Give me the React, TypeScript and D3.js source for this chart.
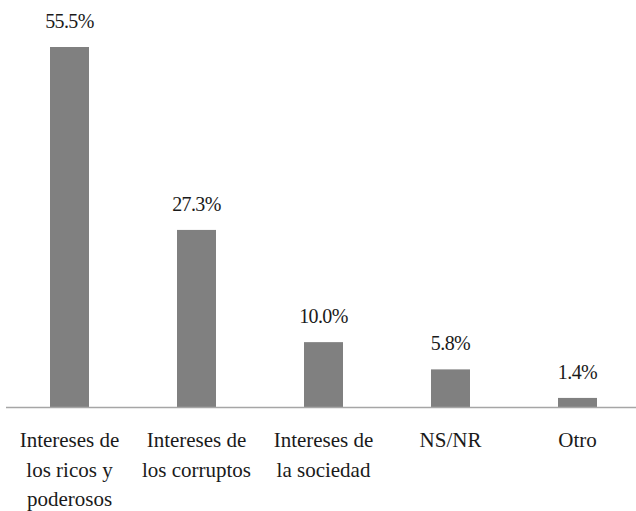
import React from "react";
import * as d3 from "d3";

const categories: string[][] = [
  ["Intereses de", "los ricos y", "poderosos"],
  ["Intereses de", "los corruptos"],
  ["Intereses de", "la sociedad"],
  ["NS/NR"],
  ["Otro"],
];
const values: number[] = [55.5, 27.3, 10.0, 5.8, 1.4];
const valueLabels: string[] = ["55.5%", "27.3%", "10.0%", "5.8%", "1.4%"];

export default function App() {
  const ids = categories.map((_, i) => String(i));
  const x = d3.scaleBand<string>().domain(ids).range([6, 641]).paddingInner(0.693).paddingOuter(0.3465);
  const y = d3.scaleLinear().domain([0, 55.5]).range([407, 47]);
  const bw = x.bandwidth();
  return (
    <svg width={636} height={511} style={{ position: "absolute", left: 0, top: 0, background: "#fff" }}>
      <style>{"text, tspan { font-family: 'Times New Roman', 'Liberation Serif', Tinos, serif !important; }"}</style>
      {values.map((v, i) => (
        <rect key={"b" + i} x={x(ids[i])!} y={y(v)} width={bw} height={y(0) - y(v)} fill="#808080" />
      ))}
      <line x1={6} x2={636} y1={407.5} y2={407.5} stroke="#a6a6a6" strokeWidth={1.5} />
      {values.map((v, i) => (
        <text
          key={"v" + i}
          x={x(ids[i])! + bw / 2}
          y={y(v) - 19}
          textAnchor="middle"
          fontFamily="Times New Roman, Liberation Serif, serif"
          fontSize={20}
          letterSpacing={-0.6}
          fill="#1a1a1a"
        >
          {valueLabels[i]}
        </text>
      ))}
      {categories.map((lines, i) => (
        <text
          key={"c" + i}
          x={x(ids[i])! + bw / 2}
          y={447}
          textAnchor="middle"
          fontFamily="Times New Roman, Liberation Serif, serif"
          fontSize={21}
          fill="#1a1a1a"
        >
          {lines.map((l, j) => (
            <tspan key={j} x={x(ids[i])! + bw / 2} dy={j === 0 ? 0 : 29.5}>
              {l}
            </tspan>
          ))}
        </text>
      ))}
    </svg>
  );
}
